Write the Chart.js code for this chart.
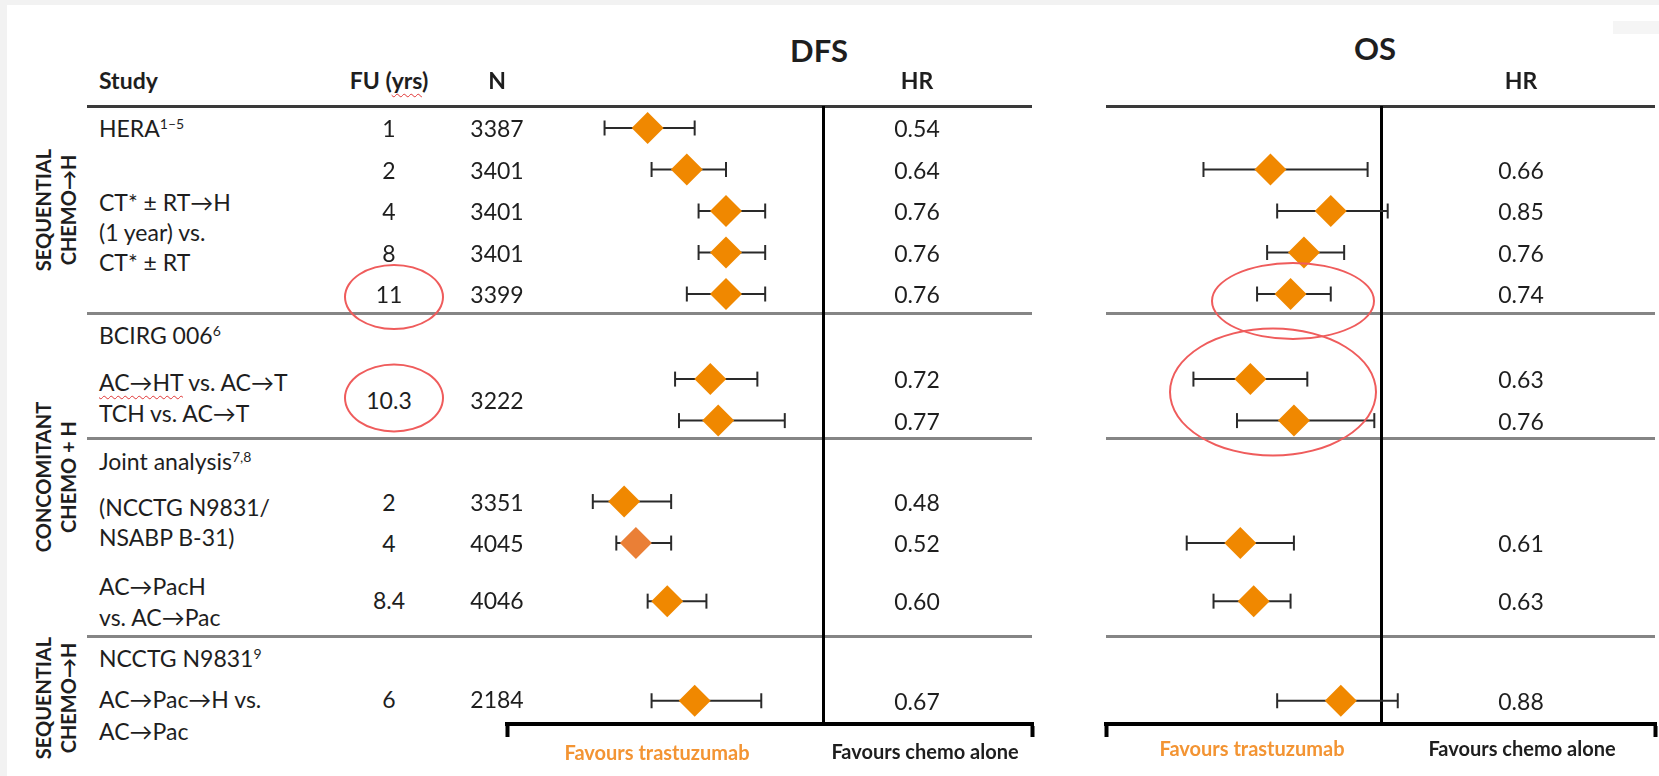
<!DOCTYPE html>
<html>
<head>
<meta charset="utf-8">
<script src="https://cdn.jsdelivr.net/npm/chart.js@4.4.1/dist/chart.umd.min.js"></script>
<style>
  html, body { margin: 0; padding: 0; }
  body { width: 1659px; height: 776px; background: #f2f2f2; position: relative; overflow: hidden;
         font-family: Lato, "Open Sans", sans-serif; color: #1e1e1e; }
  #page { position: absolute; left: 7px; top: 5px; right: 0; bottom: 0; background: #fff; }
  #corner { position: absolute; left: 1613px; top: 21px; width: 46px; height: 13px; background: #f5f5f5; }
  canvas { position: absolute; }
  .t { position: absolute; white-space: nowrap; font-size: 23px; transform: translateY(-50%); }
  .c { transform: translate(-50%, -50%); }
  .b { font-weight: 700; }
  .title { font-size: 31px; }
  .fav { font-size: 20px; font-weight: 700; }
  .group { position: absolute; font-size: 20px; font-weight: 700; line-height: 25px; text-align: center;
           white-space: nowrap; transform: translate(-50%, -50%) rotate(-90deg); }
  sup { font-size: 14px; vertical-align: 0; position: relative; top: -8px; }
  .wavy { text-decoration: underline wavy #e03535; text-decoration-thickness: 1px; text-underline-offset: 4px; }
  .line { position: absolute; height: 3px; }
  .ring { position: absolute; border: 2px solid #ef5c5c; border-radius: 50%; transform: translate(-50%, -50%); }
</style>
</head>
<body>
<div id="page"></div>
<div id="corner"></div>
<canvas id="dfsChart" width="557" height="654" style="left:491px; top:90px;"></canvas>
<canvas id="osChart" width="581" height="654" style="left:1090px; top:90px;"></canvas>

<script>
// Tabla de estudios
const studyLines = ['HERA<sup>1–5</sup>', 'CT* ± RT→H', '(1 year) vs.', 'CT* ± RT',
    'BCIRG 006<sup>6</sup>', '<span class="wavy">AC→HT</span> vs. AC→T', 'TCH vs. AC→T',
    'Joint analysis<sup>7,8</sup>', '(NCCTG N9831/', 'NSABP B-31)', 'AC→PacH', 'vs. AC→Pac',
    'NCCTG N9831<sup>9</sup>', 'AC→Pac→H vs.', 'AC→Pac'];
const groupLabels = [['SEQUENTIAL', 'CHEMO→H'], ['CONCOMITANT', 'CHEMO + H'], ['SEQUENTIAL', 'CHEMO→H']];
const fuYears = ['1', '2', '4', '8', '11', '10.3', '2', '4', '8.4', '6'];
const nPatients = ['3387', '3401', '3401', '3401', '3399', '3222', '3351', '4045', '4046', '2184'];

// DFS: HR publicado, posición del rombo e intervalo
const dfsHR = ['0.54', '0.64', '0.76', '0.76', '0.76', '0.72', '0.77', '0.48', '0.52', '0.60', '0.67'];
const dfsPoint = [0.55, 0.65, 0.75, 0.75, 0.75, 0.71, 0.73, 0.49, 0.52, 0.60, 0.67];
const dfsLow = [0.44, 0.56, 0.68, 0.68, 0.65, 0.62, 0.63, 0.41, 0.47, 0.55, 0.56];
const dfsHigh = [0.67, 0.75, 0.85, 0.85, 0.85, 0.83, 0.90, 0.61, 0.61, 0.70, 0.84];

// OS
const osHR = [null, '0.66', '0.85', '0.76', '0.74', '0.63', '0.76', null, '0.61', '0.63', '0.88'];
const osPoint = [null, 0.67, 0.85, 0.77, 0.73, 0.61, 0.74, null, 0.58, 0.62, 0.88];
const osLow = [null, 0.47, 0.69, 0.66, 0.63, 0.44, 0.57, null, 0.42, 0.50, 0.69];
const osHigh = [null, 0.96, 1.02, 0.89, 0.85, 0.78, 0.98, null, 0.74, 0.73, 1.05];

// Posiciones verticales (en filas)
const markRows = [0, 1, 2, 3, 4, 6.05, 7.05, 9, 10, 11.4, 13.8];
const fuRows = [0, 1, 2, 3, 4, 6.55, 9, 10, 11.37, 13.75];
const studyRows = [0, 1.78, 2.5, 3.23, 4.99, 6.12, 6.87, 8.02, 9.13, 9.86, 11.04, 11.78, 12.77, 13.76, 14.53];
const groupRows = [1.98, 8.41, 13.73];
const sepRows = [4.47, 7.47, 12.25];

const ORANGE = '#f08800';

function makeForest(id, points, lows, highs, colors, xMin, xMax) {
    const diamonds = [];
    const diamondColors = [];
    const datasets = [];
    points.forEach((p, i) => {
        if (p === null) return;
        diamonds.push({ x: p, y: markRows[i] });
        diamondColors.push(colors[i] || ORANGE);
        datasets.push({
            data: [{ x: lows[i], y: markRows[i] }, { x: highs[i], y: markRows[i] }],
            showLine: true,
            borderColor: '#2a2a2a',
            borderWidth: 2,
            pointStyle: 'line',
            pointRotation: 90,
            pointRadius: 7.5,
            pointBorderWidth: 2,
            pointBorderColor: '#2a2a2a',
            order: 1
        });
    });
    datasets.unshift({
        data: diamonds,
        pointStyle: 'rectRot',
        pointRadius: 16,
        pointBackgroundColor: diamondColors,
        pointBorderWidth: 0,
        order: 0
    });

    // el padding de 16 coincide con el mínimo que Chart.js reserva por el radio de los rombos
    return new Chart(document.getElementById(id), {
        type: 'scatter',
        data: { datasets },
        options: {
            responsive: false,
            animation: false,
            devicePixelRatio: 1,
            layout: { padding: { left: 16, right: 16, top: 16, bottom: 7 } },
            plugins: { legend: { display: false }, tooltip: { enabled: false } },
            scales: {
                x: {
                    type: 'linear', min: xMin, max: xMax,
                    afterBuildTicks: ax => { ax.ticks = [xMin, 1, xMax].map(v => ({ value: v })); },
                    ticks: { display: false },
                    grid: {
                        color: c => (c.tick && c.tick.value === 1) ? '#000' : 'rgba(0,0,0,0)',
                        lineWidth: 3,
                        drawTicks: true,
                        tickLength: 13,
                        tickWidth: 4,
                        tickColor: c => (c.tick && c.tick.value === 1) ? 'rgba(0,0,0,0)' : '#000'
                    },
                    border: { display: true, color: '#000', width: 4 }
                },
                y: { type: 'linear', reverse: true, min: -0.53, max: 14.36, display: false }
            }
        }
    });
}

const dfsColors = []; dfsColors[8] = '#ea7f36';
const dfsChart = makeForest('dfsChart', dfsPoint, dfsLow, dfsHigh, dfsColors, 0.191, 1.531);
const osChart = makeForest('osChart', osPoint, osLow, osHigh, [], 0.179, 1.818);

// Texto en HTML, alineado con la escala Y del gráfico
const top0 = document.getElementById('dfsChart').offsetTop;
const rowPx = v => dfsChart.scales.y.getPixelForValue(v) + top0;
const area = dfsChart.chartArea;

function addText(html, x, y, cls, color) {
    const d = document.createElement('div');
    d.className = 't ' + (cls || '');
    d.innerHTML = html;
    d.style.left = x + 'px';
    d.style.top = y + 'px';
    if (color) d.style.color = color;
    document.body.appendChild(d);
}
function addLine(x1, x2, y, color) {
    const d = document.createElement('div');
    d.className = 'line';
    d.style.left = x1 + 'px';
    d.style.width = (x2 - x1) + 'px';
    d.style.top = (y - 1.5) + 'px';
    d.style.background = color;
    document.body.insertBefore(d, document.getElementById('dfsChart'));
}
function addRing(cx, cy, w, h) {
    const d = document.createElement('div');
    d.className = 'ring';
    d.style.left = cx + 'px'; d.style.top = cy + 'px';
    d.style.width = w + 'px'; d.style.height = h + 'px';
    document.body.appendChild(d);
}

// Cabeceras
addText('DFS', 819, 50, 'c b title');
addText('OS', 1375, 48, 'c b title');
addText('Study', 99, 80, 'b');
addText('FU (<span class="wavy">yrs</span>)', 389, 80, 'c b');
addText('N', 497, 80, 'c b');
addText('HR', 917, 80, 'c b');
addText('HR', 1521, 80, 'c b');

// Líneas horizontales
const headY = area.top + top0;
addLine(87, 1032, headY, '#3a3a3a');
addLine(1106, 1655, headY, '#3a3a3a');
sepRows.forEach(r => {
    addLine(87, 1032, rowPx(r), '#858585');
    addLine(1106, 1655, rowPx(r), '#858585');
});

studyLines.forEach((s, i) => addText(s, 99, rowPx(studyRows[i])));
fuYears.forEach((s, i) => addText(s, 389, rowPx(fuRows[i]), 'c'));
nPatients.forEach((s, i) => addText(s, 497, rowPx(fuRows[i]), 'c'));
dfsHR.forEach((s, i) => addText(s, 917, rowPx(markRows[i]), 'c'));
osHR.forEach((s, i) => { if (s) addText(s, 1521, rowPx(markRows[i]), 'c'); });

groupLabels.forEach((g, i) => {
    const d = document.createElement('div');
    d.className = 'group';
    d.innerHTML = g.join('<br>');
    d.style.left = '56px';
    d.style.top = rowPx(groupRows[i]) + 'px';
    document.body.appendChild(d);
});

// Etiquetas inferiores
addText('Favours trastuzumab', 657, 752, 'c fav', '#f39433');
addText('Favours chemo alone', 925, 751, 'c fav');
addText('Favours trastuzumab', 1252, 748, 'c fav', '#f39433');
addText('Favours chemo alone', 1522, 748, 'c fav');

// Anotaciones (elipses rojas)
addRing(394, 297, 96, 62);
addRing(394, 398, 96, 65);
addRing(1293, 301, 160, 74);
addRing(1273, 392, 204, 125);
</script>
</body>
</html>
